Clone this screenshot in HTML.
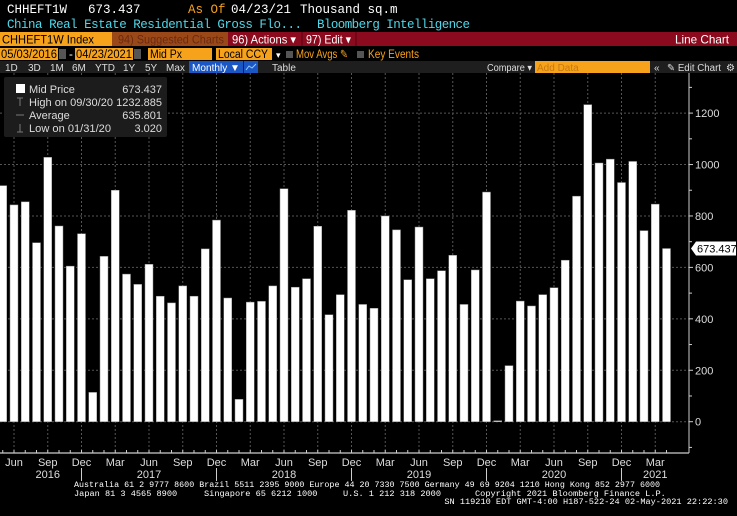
<!DOCTYPE html>
<html><head><meta charset="utf-8"><style>
html,body{margin:0;padding:0;background:#000;}
svg{display:block;}
text{font-family:"Liberation Sans",sans-serif;}
.m{font-family:"Liberation Mono",monospace;}
</style></head><body>
<svg id="chart" width="737" height="516" viewBox="0 0 737 516" xmlns="http://www.w3.org/2000/svg">
<rect x="0" y="0" width="737" height="516" fill="#000"/>
<g class="m" font-size="12.5">
<text x="7" y="13" fill="#fff" class="m">CHHEFT1W</text>
<text x="88" y="13" fill="#fff" class="m">673.437</text>
<text x="188" y="13" fill="#f7a21b" class="m">As Of</text>
<text x="231" y="13" fill="#fff" class="m">04/23/21</text>
<text x="300" y="13" fill="#fff" class="m">Thousand sq.m</text>
<text x="7" y="28" fill="#4fd8ea" class="m" textLength="295">China Real Estate Residential Gross Flo...</text>
<text x="317" y="28" fill="#4fd8ea" class="m" textLength="153">Bloomberg Intelligence</text>
</g>
<rect x="0" y="32" width="737" height="14" fill="#8b0a1e"/>
<rect x="0" y="32" width="112" height="14" fill="#f7a21b"/>
<text x="2" y="43.5" font-size="12" fill="#000" textLength="92" lengthAdjust="spacingAndGlyphs">CHHEFT1W Index</text>
<rect x="112" y="32" width="116" height="14" fill="#9a4818"/>
<text x="118" y="43.5" font-size="12" fill="#6b2a10" textLength="106" lengthAdjust="spacingAndGlyphs">94) Suggested Charts</text>
<text x="232" y="43.5" font-size="12" fill="#fff" textLength="64" lengthAdjust="spacingAndGlyphs">96) Actions ▾</text>
<line x1="302" y1="32" x2="302" y2="46" stroke="#5a0010"/>
<text x="306" y="43.5" font-size="12" fill="#fff" textLength="45" lengthAdjust="spacingAndGlyphs">97) Edit ▾</text>
<line x1="356" y1="32" x2="356" y2="46" stroke="#5a0010"/>
<text x="729" y="43.5" font-size="12" fill="#fff" text-anchor="end" textLength="54" lengthAdjust="spacingAndGlyphs">Line Chart</text>
<g font-size="11.5">
<rect x="0" y="48" width="58" height="12" fill="#f7a21b"/>
<text x="1" y="58" fill="#000" textLength="56" lengthAdjust="spacingAndGlyphs">05/03/2016</text>
<rect x="59" y="49" width="7" height="10" fill="#555"/>
<text x="69" y="58" fill="#fff">-</text>
<rect x="75" y="48" width="58" height="12" fill="#f7a21b"/>
<text x="76" y="58" fill="#000" textLength="56" lengthAdjust="spacingAndGlyphs">04/23/2021</text>
<rect x="134" y="49" width="7" height="10" fill="#555"/>
<rect x="148" y="48" width="64" height="12" fill="#f7a21b"/>
<text x="150" y="58" fill="#000" textLength="32" lengthAdjust="spacingAndGlyphs">Mid Px</text>
<rect x="216" y="48" width="56" height="12" fill="#f7a21b"/>
<text x="218" y="58" fill="#000" textLength="50" lengthAdjust="spacingAndGlyphs">Local CCY</text>
<text x="276" y="58" fill="#fff" font-size="9">▾</text>
<rect x="286" y="51" width="7" height="7" fill="#555"/>
<text x="296" y="58" fill="#f7a21b" textLength="52" lengthAdjust="spacingAndGlyphs">Mov Avgs ✎</text>
<rect x="357" y="51" width="7" height="7" fill="#555"/>
<text x="368" y="58" fill="#f7a21b" textLength="51" lengthAdjust="spacingAndGlyphs">Key Events</text>
</g>
<rect x="0" y="61" width="737" height="12" fill="#1e1e1e"/>
<g font-size="10" fill="#ddd">
<text x="5" y="71">1D</text>
<text x="28" y="71">3D</text>
<text x="50" y="71">1M</text>
<text x="72" y="71">6M</text>
<text x="95" y="71">YTD</text>
<text x="123" y="71">1Y</text>
<text x="145" y="71">5Y</text>
<text x="166" y="71">Max</text>
<rect x="189" y="61" width="54" height="12" fill="#1a56c4"/>
<text x="192" y="71" fill="#fff" textLength="48" lengthAdjust="spacingAndGlyphs">Monthly ▼</text>
<rect x="244" y="61" width="14" height="12" fill="#1a56c4"/>
<polyline points="246,70 249,66 252,68 256,64" fill="none" stroke="#9cf" stroke-width="1"/>
<text x="272" y="71">Table</text>
<text x="487" y="71" textLength="45" lengthAdjust="spacingAndGlyphs">Compare ▾</text>
<rect x="535" y="61" width="115" height="12" fill="#f7a21b"/>
<text x="537" y="71" fill="#c57a10">Add Data</text>
<text x="654" y="71">«</text>
<text x="667" y="71" textLength="54" lengthAdjust="spacingAndGlyphs">✎ Edit Chart</text>
<text x="726" y="71">⚙</text>
</g>
<g id="plot"></g>
<g>
<rect x="4" y="77" width="163" height="60" rx="2" fill="#1c1c1c"/>
<rect x="16" y="84" width="9" height="9" fill="#fff"/>
<g font-size="11" fill="#ddd">
<text x="29" y="93">Mid Price</text><text x="162" y="93" text-anchor="end">673.437</text>
<text x="29" y="106" textLength="84" lengthAdjust="spacingAndGlyphs">High on 09/30/20</text><text x="162" y="106" text-anchor="end">1232.885</text>
<text x="29" y="119">Average</text><text x="162" y="119" text-anchor="end">635.801</text>
<text x="29" y="132" textLength="82" lengthAdjust="spacingAndGlyphs">Low on 01/31/20</text><text x="162" y="132" text-anchor="end">3.020</text>
</g>
<g stroke="#777" fill="none"><line x1="20" y1="98" x2="20" y2="106"/><line x1="17" y1="98" x2="23" y2="98"/><line x1="16" y1="115" x2="24" y2="115"/><line x1="20" y1="124" x2="20" y2="132"/><line x1="17" y1="132" x2="23" y2="132"/></g>
</g>
<g class="m" font-size="8.6" fill="#fff">
<text x="74" y="487" textLength="586" lengthAdjust="spacingAndGlyphs" class="m">Australia 61 2 9777 8600 Brazil 5511 2395 9000 Europe 44 20 7330 7500 Germany 49 69 9204 1210 Hong Kong 852 2977 6000</text>
<text x="74" y="496" class="m">Japan 81 3 4565 8900</text>
<text x="204" y="496" class="m">Singapore 65 6212 1000</text>
<text x="343" y="496" class="m">U.S. 1 212 318 2000</text>
<text x="475" y="496" class="m">Copyright 2021 Bloomberg Finance L.P.</text>
<text x="728" y="504" text-anchor="end" class="m">SN 119210 EDT  GMT-4:00 H187-522-24 02-May-2021 22:22:30</text>
</g>
</svg>
<script>
const months = ["May16","Jun16","Jul16","Aug16","Sep16","Oct16","Nov16","Dec16","Jan17","Feb17","Mar17","Apr17","May17","Jun17","Jul17","Aug17","Sep17","Oct17","Nov17","Dec17","Jan18","Feb18","Mar18","Apr18","May18","Jun18","Jul18","Aug18","Sep18","Oct18","Nov18","Dec18","Jan19","Feb19","Mar19","Apr19","May19","Jun19","Jul19","Aug19","Sep19","Oct19","Nov19","Dec19","Jan20","Feb20","Mar20","Apr20","May20","Jun20","Jul20","Aug20","Sep20","Oct20","Nov20","Dec20","Jan21","Feb21","Mar21","Apr21"];
const values = [918,843,855,696,1028,761,605,731,114,643,900,574,534,612,488,462,528,488,672,784,481,87,465,468,528,906,523,556,760,416,494,822,456,441,800,746,552,757,556,587,647,456,590,893,3.02,218,469,450,494,521,628,877,1232.885,1006,1021,930,1012,743,846,673.437];
const yTicks = [0,200,400,600,800,1000,1200];
const monthLabels = ["Jun","Sep","Dec","Mar"];
const yearLabels = [["2016",4],["2017",13],["2018",25],["2019",37],["2020",49],["2021",58]];
const lastLabel = "673.437";

const NS="http://www.w3.org/2000/svg";
const plot=document.getElementById('plot');
const y0=421.7, pxPer=308.6/1200, x0=2.75, step=11.25, axisX=689;
const yS=v=>y0-v*pxPer;
const xS=i=>x0+i*step;
function mk(tag,attrs){const e=document.createElementNS(NS,tag);for(const k in attrs)e.setAttribute(k,attrs[k]);plot.appendChild(e);return e;}
yTicks.forEach(t=>{
  const g=mk('line',{x1:0,x2:axisX,y1:yS(t),y2:yS(t),stroke:'#555','stroke-dasharray':'2,2'});
  
  
});
months.forEach((m,i)=>{
  if(i%3===1){
    const g=mk('line',{x1:xS(i),x2:xS(i),y1:73,y2:453,stroke:'#555','stroke-dasharray':'2,2'});
    
    
  }
});
values.forEach((v,i)=>{
  const h=Math.max(v*pxPer,1);
  const b=mk('rect',{x:xS(i)-4,y:y0-h,width:8,height:h,fill:'#fff',stroke:'#888','stroke-width':0.5});
  
  
});
const ax=mk('line',{x1:axisX,x2:axisX,y1:73,y2:453,stroke:'#ccc'});


for(let v=-100;v<=1300;v+=100){
  const yy=yS(v); if(yy<75) continue;
  mk('line',{x1:axisX,x2:axisX+(v%200===0?4:3),y1:yy,y2:yy,stroke:'#ccc'});
}
yTicks.forEach(t=>{
  const tx=mk('text',{x:axisX+6,y:yS(t)+4,fill:'#ddd','font-size':11});
  tx.textContent=t;
  
  
});
const ly=yS(values[values.length-1]);
const flag=mk('path',{d:`M${axisX+2},${ly} L${axisX+7},${ly-7} H736 V${ly+7} H${axisX+7} Z`,fill:'#fff'});


const ft=mk('text',{x:axisX+8,y:ly+4,fill:'#000','font-size':11});
ft.textContent=lastLabel;


const xa=mk('line',{x1:0,x2:axisX,y1:453,y2:453,stroke:'#ccc','stroke-width':1.2});


months.forEach((m,i)=>{
  mk('line',{x1:xS(i),x2:xS(i),y1:450,y2:453,stroke:'#ccc'});
  if(i%3===1){
    const t=mk('text',{x:xS(i),y:466,fill:'#ddd','font-size':11,'text-anchor':'middle'});
    t.textContent=monthLabels[Math.floor((i-1)/3)%4];
    
    
  }
  if(m.startsWith('Dec')){
    mk('line',{x1:xS(i),x2:xS(i),y1:468,y2:481,stroke:'#ccc'});
  }
});
yearLabels.forEach(([y,i])=>{
  const t=mk('text',{x:xS(i),y:478,fill:'#ddd','font-size':11,'text-anchor':'middle'});
  t.textContent=y;
  
  
});
</script>
</body></html>
